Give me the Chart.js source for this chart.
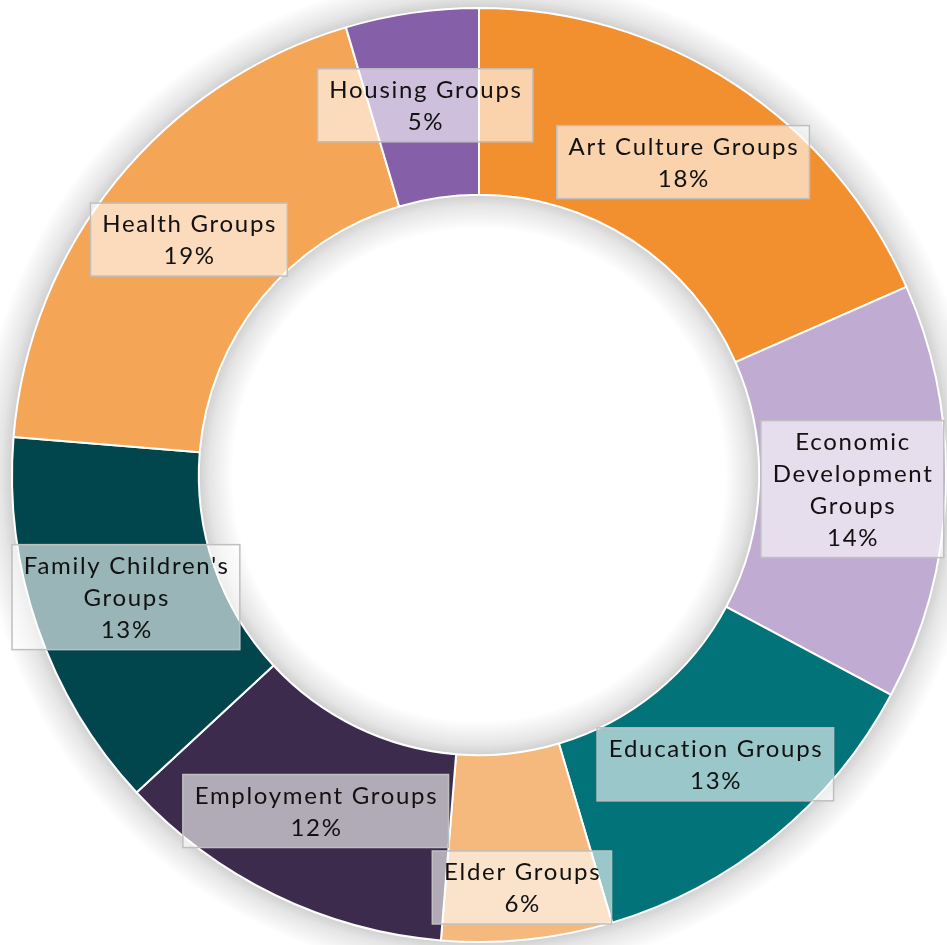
<!DOCTYPE html>
<html>
<head>
<meta charset="utf-8">
<script src="https://cdn.jsdelivr.net/npm/chart.js@4"></script>
<style>
  html, body { margin: 0; padding: 0; background: #ffffff; }
  #wrap { width: 947px; height: 945px; position: relative; }
</style>
</head>
<body>
<div id="wrap"><canvas id="c" width="947" height="945"></canvas></div>
<script>
// ---- data ----
const categories = [
  'Art Culture Groups', 'Economic Development Groups', 'Education Groups', 'Elder Groups',
  'Employment Groups', "Family Children's Groups", 'Health Groups', 'Housing Groups'
];
const labelLines = [
  ['Art Culture Groups'], ['Economic', 'Development', 'Groups'], ['Education Groups'], ['Elder Groups'],
  ['Employment Groups'], ["Family Children's", 'Groups'], ['Health Groups'], ['Housing Groups']
];
const shares = [18.4, 14.4, 12.6, 5.9, 11.8, 13.2, 19.1, 4.6];
const colors = ['#F28F2F', '#C0ABD2', '#03737A', '#F5B97D', '#3D2B4D', '#02464D', '#F4A556', '#8560A8'];
// radial position of each label, as fraction of ring mid radius
const labelRadial = [1, 1, 1, 1.11, 1, 1, 1, 1];

const FONT = '24px Lato, "Open Sans", sans-serif';
const SPACING = '1.7px';
const LINE_H = 32;

const shadowPlugin = {
  id: 'ringShadow',
  beforeDatasetsDraw(chart) {
    const arc = chart.getDatasetMeta(0).data[0];
    if (!arc) return;
    const x = arc.x, y = arc.y, ri = arc.innerRadius, ro = arc.outerRadius;
    const ctx = chart.ctx;
    const S = 34;
    ctx.save();
    // outer glow
    let g = ctx.createRadialGradient(x, y, ro - 2, x, y, ro + S);
    g.addColorStop(0, 'rgba(0,0,0,0.2)');
    g.addColorStop(0.35, 'rgba(0,0,0,0.1)');
    g.addColorStop(1, 'rgba(0,0,0,0)');
    ctx.fillStyle = g;
    ctx.beginPath();
    ctx.arc(x, y, ro + S, 0, Math.PI * 2);
    ctx.arc(x, y, ro - 2, Math.PI * 2, 0, true);
    ctx.closePath();
    ctx.fill();
    // inner shadow inside the hole
    g = ctx.createRadialGradient(x, y, ri - S, x, y, ri + 2);
    g.addColorStop(0, 'rgba(0,0,0,0)');
    g.addColorStop(0.65, 'rgba(0,0,0,0.1)');
    g.addColorStop(1, 'rgba(0,0,0,0.2)');
    ctx.fillStyle = g;
    ctx.beginPath();
    ctx.arc(x, y, ri + 2, 0, Math.PI * 2);
    ctx.arc(x, y, ri - S, Math.PI * 2, 0, true);
    ctx.closePath();
    ctx.fill();
    ctx.restore();
  }
};

const labelPlugin = {
  id: 'boxLabels',
  afterDatasetsDraw(chart) {
    const meta = chart.getDatasetMeta(0);
    const ctx = chart.ctx;
    const total = shares.reduce((a, b) => a + b, 0);
    ctx.save();
    ctx.font = FONT;
    if ('letterSpacing' in ctx) ctx.letterSpacing = SPACING;
    ctx.textAlign = 'center';
    ctx.textBaseline = 'middle';
    meta.data.forEach((arc, i) => {
      const mid = (arc.startAngle + arc.endAngle) / 2;
      const r = (arc.innerRadius + arc.outerRadius) / 2 * labelRadial[i];
      let cx = arc.x + Math.cos(mid) * r;
      let cy = arc.y + Math.sin(mid) * r;
      const lines = labelLines[i].concat([Math.round(shares[i] / total * 100) + '%']);
      let w = 0;
      lines.forEach(l => { w = Math.max(w, ctx.measureText(l).width); });
      const bw = w + 22;
      const bh = lines.length * LINE_H + 9;
      if (cx + bw / 2 > chart.width + 12) cx = chart.width + 12 - bw / 2;
      if (cx - bw / 2 < 10) cx = 10 + bw / 2;
      const bx = cx - bw / 2, by = cy - bh / 2;
      ctx.fillStyle = 'rgba(255,255,255,0.6)';
      ctx.fillRect(bx, by, bw, bh);
      ctx.strokeStyle = '#BFBFBF';
      ctx.lineWidth = 1.5;
      ctx.strokeRect(bx, by, bw, bh);
      ctx.fillStyle = '#111111';
      lines.forEach((l, k) => {
        ctx.fillText(l, cx + 0.8, by + 4.5 + LINE_H * (k + 0.5) + 1);
      });
    });
    ctx.restore();
  }
};

new Chart(document.getElementById('c'), {
  type: 'doughnut',
  data: {
    labels: categories,
    datasets: [{
      data: shares,
      backgroundColor: colors,
      borderColor: '#ffffff',
      borderWidth: 2
    }]
  },
  options: {
    responsive: false,
    animation: false,
    cutout: '60%',
    layout: { padding: { left: 11, right: 0, top: 7, bottom: 2 } },
    plugins: {
      legend: { display: false },
      tooltip: { enabled: false }
    }
  },
  plugins: [shadowPlugin, labelPlugin]
});
</script>
</body>
</html>
